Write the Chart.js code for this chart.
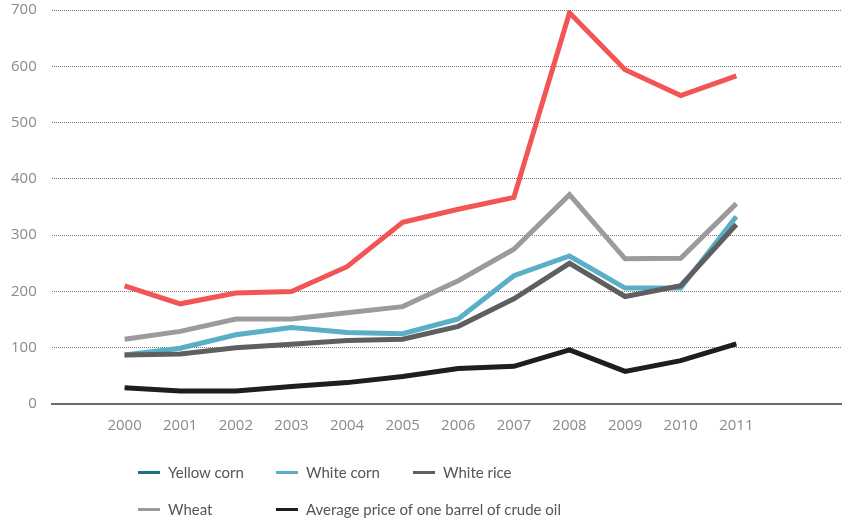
<!DOCTYPE html>
<html>
<head>
<meta charset="utf-8">
<script src="https://cdn.jsdelivr.net/npm/chart.js@4"></script>
<style>
  html, body { margin: 0; padding: 0; background: #fff; overflow: hidden; }
  #wrap { position: relative; width: 842px; height: 521px; overflow: hidden; font-family: "Open Sans", sans-serif; }
  #chartBox { position: absolute; left: -12px; top: -14px; width: 854px; height: 473px; }
  #legend { position: absolute; left: 0; top: 0; width: 842px; height: 521px; pointer-events: none; }
  .item { position: absolute; display: flex; align-items: center; font-family: Lato, sans-serif; font-size: 15px; color: #555; white-space: nowrap; }
  .swatch { width: 22px; height: 3px; margin-right: 8px; }
</style>
</head>
<body>
<div id="wrap">
  <div id="chartBox"><canvas id="priceChart" width="854" height="473"></canvas></div>
  <div id="legend"></div>
</div>
<script>
// Prices by year, 2000-2011
const years = [2000, 2001, 2002, 2003, 2004, 2005, 2006, 2007, 2008, 2009, 2010, 2011];
const yTicks = [0, 100, 200, 300, 400, 500, 600, 700];

const yellowCorn = [];
const whiteCorn = [87, 99, 123, 136, 127, 125, 151, 228, 263, 206, 206, 333];
const whiteRice = [87, 89, 100, 106, 113, 115, 138, 187, 250, 191, 210, 319];
const wheat = [115, 129, 151, 151, 162, 173, 219, 275, 372, 258, 259, 356];
const crudeOil = [29, 23, 23, 31, 38, 49, 63, 67, 96, 58, 77, 107];
const unlabeled = [210, 178, 197, 200, 244, 323, 346, 367, 695, 594, 548, 583];

const pts = arr => arr.map((v, i) => ({ x: years[i], y: v }));

// legend grid: [left, centerY] per entry
const legendSlots = [[138, 472], [276, 472], [413, 472], [138, 509], [276, 509]];

function line(label, data, color, order, inLegend) {
  return {
    label, data: pts(data), borderColor: color, backgroundColor: color,
    borderWidth: 5, pointRadius: 0, tension: 0, fill: false,
    borderJoinStyle: 'miter', order, inLegend
  };
}

const datasets = [
  line('Yellow corn', yellowCorn, '#1b6f88', 6, true),
  line('White corn', whiteCorn, '#5aaec6', 4, true),
  line('White rice', whiteRice, '#5f5f62', 3, true),
  line('Wheat', wheat, '#9b9b9f', 2, true),
  line('Average price of one barrel of crude oil', crudeOil, '#211c1d', 1, true),
  line('', unlabeled, '#f25555', 0, false)
];

const chart = new Chart(document.getElementById('priceChart').getContext('2d'), {
  type: 'line',
  data: { datasets },
  options: {
    responsive: false,
    animation: false,
    layout: { padding: { left: 8, right: 0, top: 1, bottom: 11 } },
    plugins: { legend: { display: false }, tooltip: { enabled: false } },
    scales: {
      x: {
        type: 'linear',
        min: 1998.69,
        max: 2012.9,
        afterBuildTicks: s => { s.ticks = years.map(v => ({ value: v })); },
        grid: { display: false, drawTicks: false },
        border: { display: true, color: '#6b6b6b', width: 2 },
        ticks: {
          padding: 13, color: '#8a8a8a',
          font: { family: 'Open Sans', size: 15 },
          callback: v => String(v)
        }
      },
      y: {
        min: 0,
        max: 700,
        afterBuildTicks: s => { s.ticks = yTicks.map(v => ({ value: v })); },
        grid: { color: '#777', lineWidth: 1, drawTicks: false },
        border: { display: false, dash: [1, 1] },
        ticks: {
          padding: 15, color: '#8a8a8a',
          font: { family: 'Open Sans', size: 15 }
        }
      }
    }
  }
});

// legend built from the chart's own datasets
const legendEl = document.getElementById('legend');
chart.data.datasets.filter(d => d.inLegend).forEach((d, i) => {
  const [left, cy] = legendSlots[i];
  const item = document.createElement('div');
  item.className = 'item';
  item.style.left = left + 'px';
  item.style.top = (cy - 11) + 'px';
  item.style.height = '22px';
  const sw = document.createElement('span');
  sw.className = 'swatch';
  sw.style.background = d.borderColor;
  const txt = document.createElement('span');
  txt.textContent = d.label;
  item.appendChild(sw);
  item.appendChild(txt);
  legendEl.appendChild(item);
});
</script>
</body>
</html>
